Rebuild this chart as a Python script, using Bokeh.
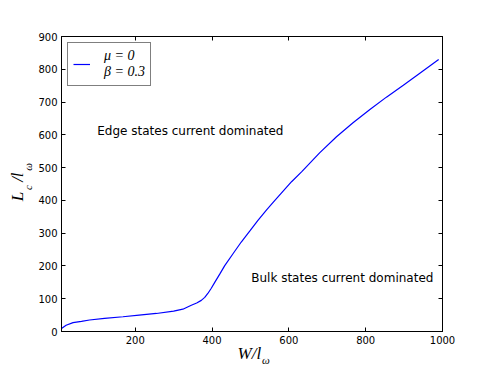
from bokeh.plotting import figure
from bokeh.models import Label, Legend, LegendItem, LinearAxis, Range1d, FixedTicker
from bokeh.embed import file_html
from bokeh.resources import INLINE

# Data
W = [8, 20, 38, 60, 81, 120, 168, 210, 255, 300, 324, 346, 360, 372, 381, 389,
     398, 407, 420, 433, 455, 476, 498, 520, 542, 563, 585, 607, 633, 646, 680,
     724, 767, 811, 854, 898, 941, 990]
L = [9, 19, 27, 31, 35, 40, 45, 50, 55, 62, 68, 80, 87, 95, 104, 116,
     132, 150, 175, 201, 238, 273, 306, 340, 371, 399, 428, 457, 487, 503, 545,
     594, 637, 677, 715, 751, 788, 830]
x_ticks = [200, 400, 600, 800, 1000]
y_ticks = [0, 100, 200, 300, 400, 500, 600, 700, 800, 900]
legend_label = "\u03bc = 0\n\u03b2 = 0.3"
edge_text = "Edge states current dominated"
bulk_text = "Bulk states current dominated"

# axis-title pieces (text, position along the axis)
xlabel_main = ("W/l", 497)
xlabel_sub = ("\u03c9", 540)
ylabel_main = [("L", 412), ("/l", 471)]
ylabel_sub = [("c", 439), ("\u03c9", 502)]

p = figure(width=485, height=368, output_backend="svg", toolbar_location=None,
           x_range=Range1d(W[0], 1000), y_range=Range1d(0, 900),
           min_border_left=61, min_border_right=43, min_border_top=36,
           min_border_bottom=37)
p.grid.visible = False
p.outline_line_color = "black"
p.outline_line_width = 1
p.background_fill_color = "white"
p.border_fill_color = "white"

p.xaxis.ticker = FixedTicker(ticks=x_ticks)
p.yaxis.ticker = FixedTicker(ticks=y_ticks)
for ax in [p.xaxis[0], p.yaxis[0]]:
    ax.major_tick_in = 4
    ax.major_tick_out = 0
    ax.minor_tick_line_color = None
    ax.major_label_text_font = "DejaVu Sans"
    ax.major_label_text_font_size = "10px"
    ax.major_label_text_color = "black"
    ax.major_label_standoff = 4

top = LinearAxis(ticker=FixedTicker(ticks=x_ticks), major_tick_in=4, major_tick_out=0,
                 minor_tick_line_color=None, major_label_standoff=0,
                 major_label_overrides={t: "" for t in x_ticks})
right = LinearAxis(ticker=FixedTicker(ticks=y_ticks), major_tick_in=4, major_tick_out=0,
                   minor_tick_line_color=None, major_label_standoff=0,
                   major_label_overrides={t: "" for t in y_ticks})
p.add_layout(top, "above")
p.add_layout(right, "right")


def title_axis(pieces, size, standoff, vertical=False):
    ax = LinearAxis(ticker=FixedTicker(ticks=[pos for _, pos in pieces]),
                    major_label_overrides={pos: txt for txt, pos in pieces},
                    axis_line_color=None, major_tick_line_color=None,
                    minor_tick_line_color=None, major_tick_in=0, major_tick_out=0,
                    major_label_text_font="Liberation Serif",
                    major_label_text_font_style="italic",
                    major_label_text_font_size=size,
                    major_label_text_color="black",
                    major_label_standoff=standoff)
    if vertical:
        ax.major_label_orientation = "vertical"
    return ax


p.add_layout(title_axis([xlabel_main], "17px", -3), "below")
p.add_layout(title_axis([xlabel_sub], "11px", -12), "below")
p.add_layout(title_axis(ylabel_sub, "11px", 1, vertical=True), "left")
p.add_layout(title_axis(ylabel_main, "17px", -8, vertical=True), "left")

r = p.line(W, L, line_color="#0000ff", line_width=1.2)

legend = Legend(items=[LegendItem(label=legend_label, renderers=[r])],
                location="top_left", margin=6, padding=5, spacing=0,
                glyph_width=17, label_standoff=14,
                label_text_font="Liberation Serif", label_text_font_style="italic",
                label_text_font_size="14px", label_text_line_height=0.6,
                label_text_color="black",
                border_line_color="black", border_line_width=1,
                background_fill_alpha=1)
p.add_layout(legend)

p.add_layout(Label(x=101, y=611, text=edge_text, text_font="DejaVu Sans",
                   text_font_size="12px", text_baseline="middle", text_color="black"))
p.add_layout(Label(x=502, y=162, text=bulk_text, text_font="DejaVu Sans",
                   text_font_size="12px", text_baseline="middle", text_color="black"))

open("out.html", "w").write(file_html(p, INLINE))
